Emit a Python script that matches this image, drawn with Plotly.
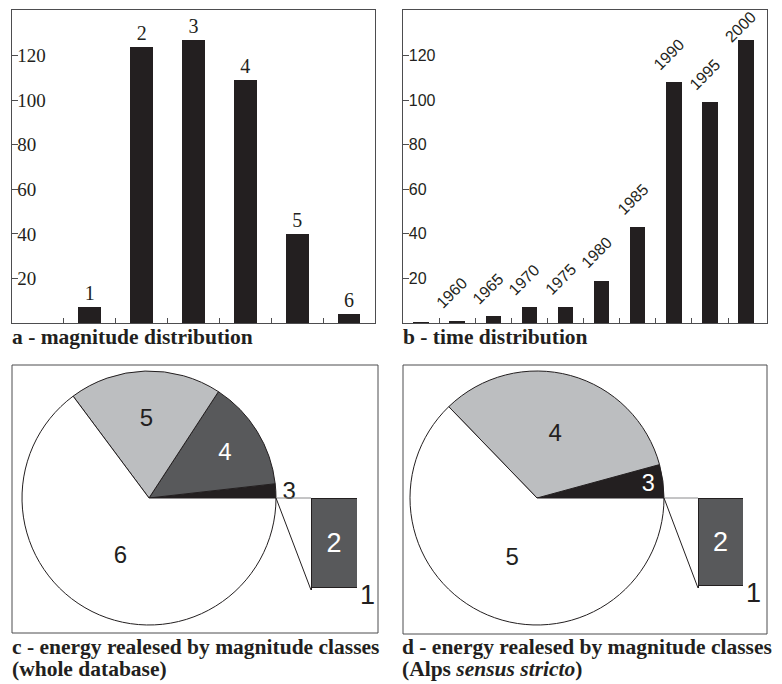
import plotly.graph_objects as go

# The page body keeps an 8px margin, so the figure starts 8px in and
# reference pixel coordinates are shifted by that offset.
OFF = 8
W, H = 782 - OFF, 684 - OFF

# ---------------- data ----------------
# a - magnitude distribution
mag_classes = [1, 2, 3, 4, 5, 6]
mag_counts = [7, 124, 127, 109, 40, 4]
mag_labels = ["1", "2", "3", "4", "5", "6"]

# b - time distribution
years = [1955, 1960, 1965, 1970, 1975, 1980, 1985, 1990, 1995, 2000]
year_counts = [0.4, 1, 3, 7, 7, 19, 43, 108, 99, 127]
year_labels = ["", "1960", "1965", "1970", "1975", "1980", "1985", "1990", "1995", "2000"]

y_tick_vals = [20, 40, 60, 80, 100, 120]

# c - energy released by magnitude classes (whole database), percent
classes_c = ["1", "2", "3", "4", "5", "6"]
energy_c = [0.001, 0.04, 1.75, 14.0, 19.4, 64.8]

# d - energy released by magnitude classes (Alps sensus stricto), percent
classes_d = ["1", "2", "3", "4", "5"]
energy_d = [0.001, 0.04, 4.2, 33.0, 62.8]

# ---------------- styles ----------------
BLACK = "#231f20"
DARK = "#58595b"
LIGHT = "#bcbec0"
WHITE = "#ffffff"
FRAME = "#4d4d4f"
SERIF = "Liberation Serif"
SANS = "Liberation Sans"

colors_c = [WHITE, DARK, BLACK, DARK, LIGHT, WHITE]
tcolor_c = [BLACK, WHITE, BLACK, WHITE, BLACK, BLACK]
tpos_c = ["none", "none", "outside", "inside", "inside", "inside"]

colors_d = [WHITE, DARK, BLACK, LIGHT, WHITE]
tcolor_d = [BLACK, WHITE, WHITE, BLACK, BLACK]
tpos_d = ["none", "none", "inside", "inside", "inside"]


def px(x):
    return (x - OFF) / W


def py(y):
    return 1 - (y - OFF) / H


# panel geometry (page pixels)
A_X = (12, 375)
B_X = (403, 767)
TOP_Y = (10, 323)
Y_MAX = 140.5
PIE_C = dict(cx=149, cy=498, r=127)
PIE_D = dict(cx=537, cy=498, r=127)
BAR_C = dict(x0=311, x1=357, top=498, bottom=590)
BAR_D = dict(x0=698, x1=743, top=498, bottom=588)

fig = go.Figure()

# ---- a ----
fig.add_trace(go.Bar(
    x=mag_classes, y=mag_counts, width=0.44, marker=dict(color=BLACK, line=dict(width=0)),
    text=mag_labels, textposition="outside", textangle=0, constraintext="none",
    cliponaxis=False, textfont=dict(family=SERIF, size=20, color=BLACK),
    xaxis="x", yaxis="y", showlegend=False, hoverinfo="x+y"))

# ---- b ----
fig.add_trace(go.Bar(
    x=years, y=year_counts, width=2.15, marker=dict(color=BLACK, line=dict(width=0)),
    xaxis="x2", yaxis="y2", showlegend=False, hoverinfo="x+y"))


def pie_domain(p):
    return dict(x=[px(p["cx"] - p["r"]), px(p["cx"] + p["r"])],
                y=[py(p["cy"] + p["r"]), py(p["cy"] - p["r"])])


# ---- c ----
fig.add_trace(go.Pie(
    labels=classes_c, values=energy_c, sort=False, direction="counterclockwise",
    rotation=90, domain=pie_domain(PIE_C), textinfo="label",
    textposition=tpos_c, insidetextorientation="horizontal",
    textfont=dict(family=SANS, size=24, color=tcolor_c),
    marker=dict(colors=colors_c, line=dict(color=BLACK, width=1)),
    showlegend=False))

# ---- d ----
fig.add_trace(go.Pie(
    labels=classes_d, values=energy_d, sort=False, direction="counterclockwise",
    rotation=90, domain=pie_domain(PIE_D), textinfo="label",
    textposition=tpos_d, insidetextorientation="horizontal",
    textfont=dict(family=SANS, size=24, color=tcolor_d),
    marker=dict(colors=colors_d, line=dict(color=BLACK, width=1)),
    showlegend=False))

# ---- bar-of-pie breakdowns (classes 1 and 2) ----
for vals, cls, xa, ya in [(energy_c, classes_c, "x3", "y3"), (energy_d, classes_d, "x4", "y4")]:
    fig.add_trace(go.Bar(x=[0], y=[vals[0]], width=1, xaxis=xa, yaxis=ya,
                         marker=dict(color=WHITE, line=dict(color=BLACK, width=1)),
                         showlegend=False, hoverinfo="y"))
    fig.add_trace(go.Bar(x=[0], y=[vals[1]], width=1, xaxis=xa, yaxis=ya,
                         marker=dict(color=DARK, line=dict(color=BLACK, width=1)),
                         text=[cls[1]], textposition="inside", insidetextanchor="middle",
                         constraintext="none",
                         textfont=dict(family=SANS, size=27, color=WHITE),
                         showlegend=False, hoverinfo="y"))

common_axis = dict(showgrid=False, zeroline=False, showline=True, mirror=True,
                   linecolor=FRAME, linewidth=1, fixedrange=True)

layout = dict(
    width=W, height=H, margin=dict(l=0, r=0, t=0, b=0),
    paper_bgcolor=WHITE, plot_bgcolor=WHITE, barmode="stack", showlegend=False,
    xaxis=dict(domain=[px(A_X[0]), px(A_X[1])], range=[-0.5, 6.5], anchor="y",
               tickvals=[0.5, 1.5, 2.5, 3.5, 4.5, 5.5], ticks="inside", ticklen=5,
               tickcolor=FRAME, showticklabels=False, **common_axis),
    yaxis=dict(domain=[py(TOP_Y[1]), py(TOP_Y[0])], range=[0, Y_MAX], anchor="x",
               tickvals=y_tick_vals, ticks="inside", ticklen=6, tickcolor=FRAME,
               ticklabelposition="inside",
               tickfont=dict(family=SERIF, size=19, color=BLACK), **common_axis),
    xaxis2=dict(domain=[px(B_X[0]), px(B_X[1])], range=[1952.5, 2002.9], anchor="y2",
                tickvals=[1957.5, 1962.5, 1967.5, 1972.5, 1977.5, 1982.5, 1987.5, 1992.5, 1997.5],
                ticks="inside", ticklen=5, tickcolor=FRAME, showticklabels=False, **common_axis),
    yaxis2=dict(domain=[py(TOP_Y[1]), py(TOP_Y[0])], range=[0, Y_MAX], anchor="x2",
                tickvals=y_tick_vals, ticks="inside", ticklen=6, tickcolor=FRAME,
                ticklabelposition="inside",
                tickfont=dict(family=SANS, size=16, color=BLACK), **common_axis),
)

hidden = dict(showgrid=False, zeroline=False, showline=False, showticklabels=False,
              ticks="", fixedrange=True)
for n, bar in [(3, BAR_C), (4, BAR_D)]:
    vals = energy_c if n == 3 else energy_d
    layout[f"xaxis{n}"] = dict(domain=[px(bar["x0"]), px(bar["x1"])], range=[-0.5, 0.5],
                               anchor=f"y{n}", **hidden)
    layout[f"yaxis{n}"] = dict(domain=[py(bar["bottom"]), py(bar["top"])],
                               range=[0, vals[0] + vals[1]], anchor=f"x{n}", **hidden)

fig.update_layout(**layout)

# frames around pie panels
shapes = [
    dict(type="rect", xref="paper", yref="paper", x0=px(12), x1=px(378), y0=py(633), y1=py(365),
         line=dict(color=FRAME, width=1)),
    dict(type="rect", xref="paper", yref="paper", x0=px(403), x1=px(767), y0=py(634), y1=py(365),
         line=dict(color=FRAME, width=1)),
]
# connector lines from the pie edge to the breakdown bar
for pie, bar in [(PIE_C, BAR_C), (PIE_D, BAR_D)]:
    ex, ey = px(pie["cx"] + pie["r"]), py(pie["cy"])
    shapes.append(dict(type="line", xref="paper", yref="paper", x0=ex, y0=ey,
                       x1=px(bar["x0"]), y1=py(bar["top"]), line=dict(color="#8a8a8c", width=1)))
    shapes.append(dict(type="line", xref="paper", yref="paper", x0=ex, y0=ey,
                       x1=px(bar["x0"]), y1=py(bar["bottom"]), line=dict(color=BLACK, width=1)))
fig.update_layout(shapes=shapes)

annotations = [
    dict(xref="x3", yref="y3", x=0.5, y=0, text=classes_c[0], showarrow=False,
         xanchor="left", yanchor="middle", xshift=1, yshift=-5,
         font=dict(family=SANS, size=27, color=BLACK)),
    dict(xref="x4", yref="y4", x=0.5, y=0, text=classes_d[0], showarrow=False,
         xanchor="left", yanchor="middle", xshift=1, yshift=-5,
         font=dict(family=SANS, size=27, color=BLACK)),
]

# rotated year labels above the bars of panel b (kept inside the frame)
px_per_unit = (TOP_Y[1] - TOP_Y[0]) / Y_MAX
for yr, cnt, lab in zip(years, year_counts, year_labels):
    if not lab:
        continue
    room = (Y_MAX - cnt) * px_per_unit - 17
    annotations.append(dict(xref="x2", yref="y2", x=yr, y=cnt, text=lab, showarrow=False,
                            textangle=-45, xanchor="center", yanchor="middle",
                            xshift=-5, yshift=min(28, room),
                            font=dict(family=SANS, size=16, color=BLACK)))

cap_font = dict(family=SERIF, size=21.5, color=BLACK)
captions = [
    (10, 337, "<b>a - magnitude distribution</b>"),
    (401, 337, "<b>b - time distribution</b>"),
    (10, 647, "<b>c - energy realesed by magnitude classes</b>"),
    (10, 669, "<b>(whole database)</b>"),
    (400, 647, "<b>d - energy realesed by magnitude classes</b>"),
    (400, 669, "<b>(Alps <i>sensus stricto</i>)</b>"),
]
for x, y, t in captions:
    annotations.append(dict(xref="paper", yref="paper", x=px(x), y=py(y), text=t,
                            showarrow=False, xanchor="left", yanchor="middle",
                            align="left", font=cap_font))
fig.update_layout(annotations=annotations)

fig.write_html("out.html")
